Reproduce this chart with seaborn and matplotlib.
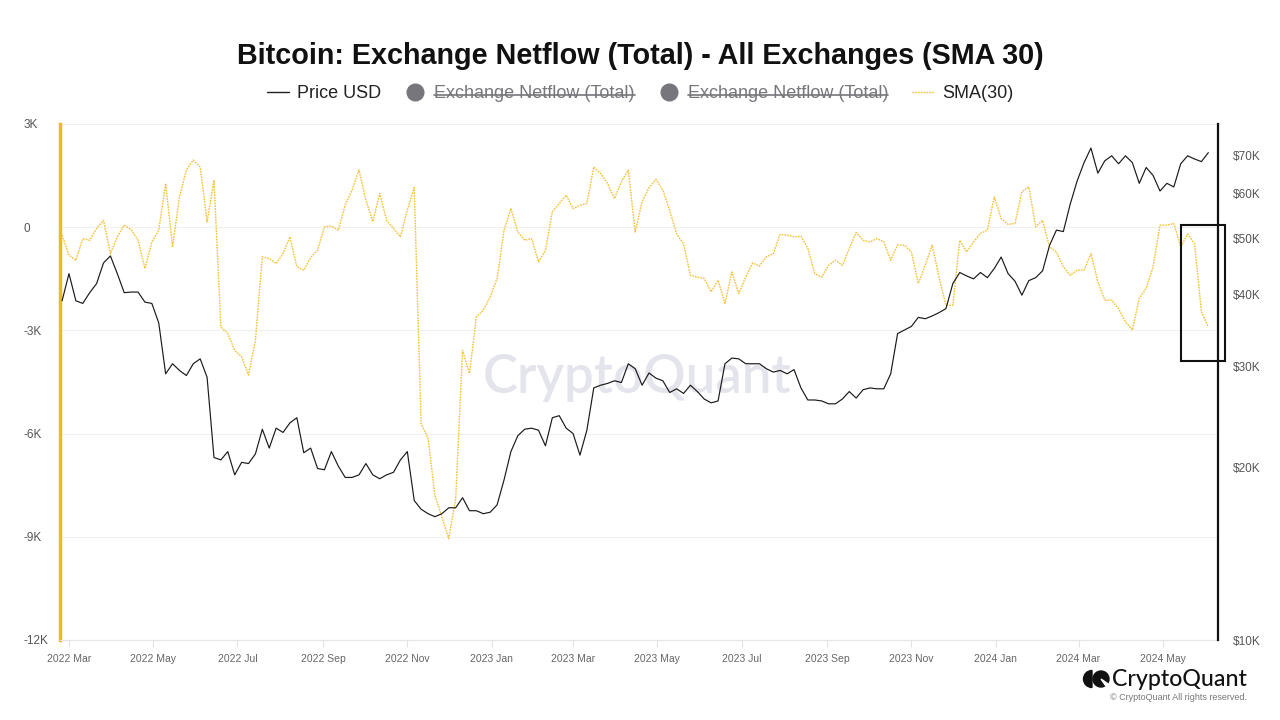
import numpy as np
import pandas as pd
import matplotlib
matplotlib.use("Agg")
import matplotlib.pyplot as plt
import matplotlib.dates as mdates
import seaborn as sns
from matplotlib.lines import Line2D
from matplotlib.patches import Rectangle, Wedge, Circle
from matplotlib.transforms import IdentityTransform
from matplotlib.ticker import FixedLocator, FixedFormatter, NullLocator

# ---------------- data ----------------
start_date = "2022-02-24"
step = "5D"

# BTC price, thousands of USD, every 5 days
price_k = [
    39.0, 43.5, 39.0, 38.6, 40.3, 41.8, 45.4, 46.7, 43.5, 40.3,
    40.4, 40.4, 38.8, 38.6, 35.7, 29.1, 30.3, 29.5, 28.9, 30.3,
    30.9, 28.7, 20.8, 20.6, 21.3, 19.4, 20.4, 20.3, 21.1, 23.3,
    21.6, 23.4, 23.0, 23.9, 24.4, 21.2, 21.6, 19.9, 19.8, 21.3,
    20.1, 19.2, 19.2, 19.4, 20.3, 19.4, 19.1, 19.4, 19.6, 20.6,
    21.3, 17.5, 16.9, 16.6, 16.4, 16.6, 17.0, 17.0, 17.7, 16.8,
    16.8, 16.6, 16.7, 17.2, 19.0, 21.3, 22.7, 23.3, 23.4, 23.2,
    21.8, 24.4, 24.6, 23.4, 22.9, 21.0, 23.2, 27.5, 27.8, 28.0,
    28.3, 28.1, 30.3, 29.7, 27.8, 29.2, 28.6, 28.3, 27.0, 27.4,
    26.9, 27.8, 27.1, 26.3, 25.9, 26.1, 30.3, 31.0, 30.9, 30.3,
    30.3, 30.3, 29.7, 29.3, 29.5, 29.1, 29.6, 27.5, 26.2, 26.2,
    26.1, 25.8, 25.8, 26.3, 27.1, 26.4, 27.3, 27.5, 27.4, 27.4,
    29.1, 34.2, 34.7, 35.2, 36.5, 36.3, 36.7, 37.2, 37.8, 41.8,
    43.7, 43.1, 42.6, 43.7, 42.8, 44.4, 46.5, 43.5, 42.2, 39.9,
    42.3, 42.8, 44.0, 48.7, 51.8, 51.5, 57.5, 63.1, 67.9, 72.0,
    65.1, 68.4, 69.8, 67.6, 69.8, 67.9, 62.5, 66.6, 64.5, 60.6,
    62.5, 61.6, 67.6, 69.8, 68.9, 68.2, 70.7,
]

# Exchange netflow, SMA(30), same dates
sma30 = [
    -230, -810, -960, -330, -380, -40, 200, -770, -280, 60,
    -70, -380, -1200, -430, -90, 1270, -570, 880, 1660, 1950,
    1750, 150, 1370, -2900, -3090, -3580, -3770, -4300, -3290, -860,
    -910, -1060, -770, -280, -1150, -1250, -880, -670, 10, 30,
    -90, 640, 1080, 1660, 790, 160, 980, 200, -40, -280,
    500, 1150, -5710, -6140, -7790, -8420, -9050, -7900, -3580, -4250,
    -2610, -2410, -2030, -1490, -90, 540, -140, -380, -330, -1010,
    -670, 450, 690, 930, 540, 640, 690, 1750, 1560, 1270,
    830, 1320, 1660, -140, 740, 1150, 1390, 1080, 480, -200,
    -480, -1400, -1450, -1490, -1880, -1540, -2220, -1300, -1930, -1450,
    -1040, -1130, -860, -770, -210, -230, -280, -260, -620, -1350,
    -1450, -1110, -960, -1110, -620, -150, -380, -430, -330, -430,
    -960, -520, -520, -720, -1640, -1110, -520, -1450, -2270, -2270,
    -380, -720, -430, -180, -90, 880, 250, 80, 110, 1030,
    1170, 10, 200, -570, -720, -1150, -1400, -1250, -1250, -770,
    -1590, -2120, -2120, -2370, -2750, -2990, -2070, -1780, -1150, 60,
    60, 110, -570, -200, -480, -2460, -2900,
]

netflow_ticks = [3000, 0, -3000, -6000, -9000, -12000]
netflow_labels = ["3K", "0", "-3K", "-6K", "-9K", "-12K"]
price_ticks = [10000, 20000, 30000, 40000, 50000, 60000, 70000]
price_labels = ["$10K", "$20K", "$30K", "$40K", "$50K", "$60K", "$70K"]

legend_labels = ["Price USD", "Exchange Netflow (Total)",
                 "Exchange Netflow (Total)", "SMA(30)"]
title = "Bitcoin: Exchange Netflow (Total) - All Exchanges (SMA 30)"

dates = pd.date_range(start_date, periods=len(price_k), freq=step)
df = pd.DataFrame({"date": dates,
                   "price": np.array(price_k) * 1000.0,
                   "sma": np.array(sma30, dtype=float)})

# ---------------- style ----------------
sns.set_theme(style="white")
plt.rcParams["font.family"] = ["Liberation Sans", "DejaVu Sans"]

GOLD = "#f2b91e"
SMA_COL = "#f5c033"
GRID = "#f0f0f0"
TICKC = "#555555"

W, H = 1280, 720
fig = plt.figure(figsize=(12.8, 7.2), dpi=100)
fig.patch.set_facecolor("white")
ax = fig.add_axes([60 / W, 80 / H, 1158 / W, 516 / H])
ax2 = ax.twinx()

# watermark
ax.text(0.498, 0.508, "CryptoQuant", transform=ax.transAxes, ha="center",
        va="center", fontsize=38, color="#e4e4ec", family=["Lato", "DejaVu Sans"],
        fontweight="semibold", zorder=0)

sns.lineplot(data=df, x="date", y="sma", ax=ax, color=SMA_COL, lw=1.0,
             zorder=3, legend=False)
ax.lines[-1].set_linestyle((0, (1.2, 0.8)))

sns.lineplot(data=df, x="date", y="price", ax=ax2, color="#1a1a1a", lw=0.85,
             zorder=3, legend=False)

# axes limits / scales
ax.set_ylim(-12000, 3000)
ax2.set_yscale("log")
ax2.set_ylim(10000, 79300)
x0 = pd.Timestamp("2022-02-22 12:00")
x1 = pd.Timestamp("2024-06-10")
ax.set_xlim(x0, x1)

# left ticks
ax.yaxis.set_major_locator(FixedLocator(netflow_ticks))
ax.yaxis.set_major_formatter(FixedFormatter(netflow_labels))
ax.tick_params(axis="y", length=0, pad=26, labelsize=8.5, labelcolor=TICKC)
for lab in ax.get_yticklabels():
    lab.set_horizontalalignment("left")
ax.yaxis.grid(True, color=GRID, lw=0.8)
ax.xaxis.grid(False)

# right ticks
ax2.yaxis.set_major_locator(FixedLocator(price_ticks))
ax2.yaxis.set_major_formatter(FixedFormatter(price_labels))
ax2.yaxis.set_minor_locator(NullLocator())
ax2.tick_params(axis="y", which="both", length=0, pad=11, labelsize=8.5,
                labelcolor=TICKC)
ax2.grid(False)

# x ticks
ax.xaxis.set_major_locator(mdates.MonthLocator(bymonth=[1, 3, 5, 7, 9, 11]))
ax.xaxis.set_major_formatter(mdates.DateFormatter("%Y %b"))
ax.tick_params(axis="x", bottom=True, length=5, width=0.8, color="#e2e2e2",
               labelsize=7.5, labelcolor="#666666", pad=5)

for a in (ax, ax2):
    a.set_xlabel("")
    a.set_ylabel("")

# spines
for s in ("top", "right"):
    ax.spines[s].set_visible(False)
ax.spines["left"].set_color(GOLD)
ax.spines["left"].set_linewidth(2.5)
ax.spines["bottom"].set_color("#e6e6e6")
ax.spines["bottom"].set_linewidth(0.8)
for s in ("top", "left", "bottom"):
    ax2.spines[s].set_visible(False)
ax2.spines["right"].set_color("#111111")
ax2.spines["right"].set_linewidth(1.6)

# highlight box
rx0 = mdates.date2num(pd.Timestamp("2024-05-14"))
rx1 = mdates.date2num(pd.Timestamp("2024-06-15"))
ax.add_patch(Rectangle((rx0, -3900), rx1 - rx0, 3960, fill=False,
                       ec="#111111", lw=1.5, clip_on=False, zorder=6))

# title
fig.text(0.5, 1 - 56 / H, title, ha="center", va="center", fontsize=20.7,
         fontweight="bold", color="#111111")

# legend
NF_GRAY = "#77767c"
handles = [
    Line2D([], [], color="#222222", lw=1.0),
    Line2D([], [], ls="none", marker="o", ms=12, color=NF_GRAY),
    Line2D([], [], ls="none", marker="o", ms=12, color=NF_GRAY),
    Line2D([], [], color=SMA_COL, lw=1.0, ls=(0, (1.2, 0.8))),
]
leg = fig.legend(handles, legend_labels, loc="center",
                 bbox_to_anchor=(0.5, 1 - 94 / H), ncol=4, frameon=False,
                 fontsize=13, handlelength=1.2, handletextpad=0.45,
                 columnspacing=1.3)
for i, t in enumerate(leg.get_texts()):
    t.set_color(NF_GRAY if i in (1, 2) else "#222222")

# logo / copyright
fig.text(1247 / W, 1 - 679 / H, "CryptoQuant", ha="right", va="center",
         fontsize=16.7, color="#111111", family=["Lato", "DejaVu Sans"],
         fontweight="medium")
fig.text(1247 / W, 1 - 698 / H, "\u00a9 CryptoQuant All rights reserved.",
         ha="right", va="center", fontsize=6.5, color="#777777")
ident = IdentityTransform()
fig.add_artist(Wedge((1092, 41), 8.5, 90, 270, color="#111111",
                     transform=ident))
fig.add_artist(Circle((1101, 41), 8, color="#111111", transform=ident))
fig.add_artist(Wedge((1101, 41), 9, 305, 325, color="white",
                     transform=ident))

# strikethrough for disabled legend entries
fig.canvas.draw()
renderer = fig.canvas.get_renderer()
for i in (1, 2):
    bb = leg.get_texts()[i].get_window_extent(renderer)
    ym = bb.y0 + bb.height * 0.42
    fig.add_artist(Line2D([bb.x0 / W, bb.x1 / W], [ym / H, ym / H],
                          transform=fig.transFigure, color=NF_GRAY, lw=1.2))

fig.savefig("out.png", dpi=100, facecolor="white")
